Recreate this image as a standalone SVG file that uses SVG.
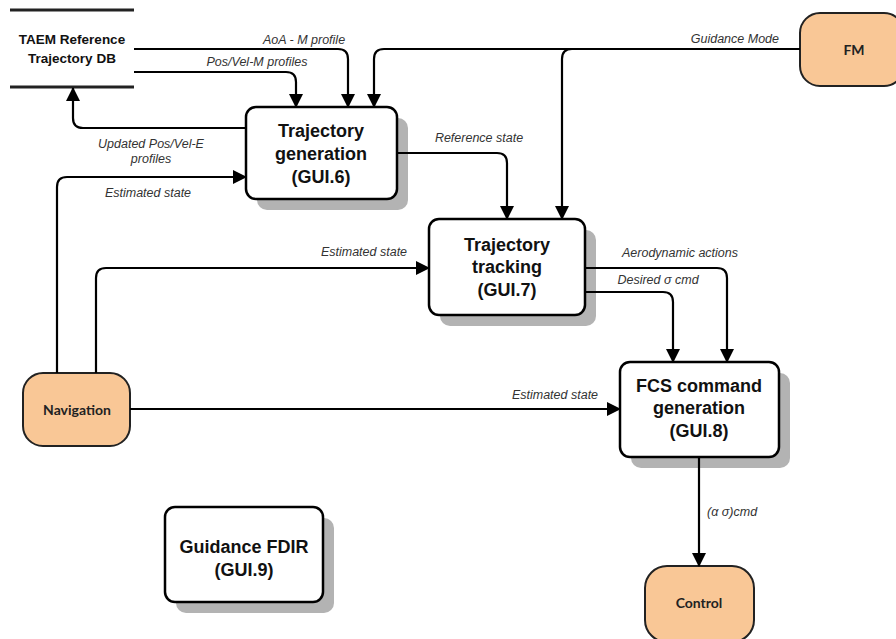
<svg xmlns="http://www.w3.org/2000/svg" width="896" height="639" viewBox="0 0 896 639">
<style>
.box{fill:#fff;stroke:#000;stroke-width:2.5}
.shadow{fill:#b3b3b3}
.term{fill:#f9c796;stroke:#222;stroke-width:2}
.btxt{font-family:"Liberation Sans",Arial,sans-serif;font-weight:bold;font-size:18px;fill:#111;text-anchor:middle}
.ttxt{font-family:Lato,"Liberation Sans",sans-serif;font-weight:bold;font-size:14px;fill:#222;text-anchor:middle}
.dbtxt{font-family:"Liberation Sans",Arial,sans-serif;font-weight:bold;font-size:13.5px;fill:#111;text-anchor:middle}
.lbl{font-family:"Liberation Sans",Arial,sans-serif;font-style:italic;font-size:12.5px;fill:#333}
.c{fill:none;stroke:#000;stroke-width:2.2}
.ca{fill:none;stroke:#000;stroke-width:2.2;marker-end:url(#arr)}
</style>
<defs>
<marker id="arr" markerUnits="userSpaceOnUse" markerWidth="14" markerHeight="14" refX="13" refY="7" orient="auto">
<path d="M0,0 L14,7 L0,14 z" fill="#000"/>
</marker>
</defs>
<rect width="896" height="639" fill="#fff"/>

<g id="db">
<line x1="10" y1="10" x2="134" y2="10" stroke="#222" stroke-width="3"/>
<line x1="10" y1="87" x2="134" y2="87" stroke="#222" stroke-width="3"/>
<text class="dbtxt" x="72" y="44">TAEM Reference</text>
<text class="dbtxt" x="72" y="63">Trajectory DB</text>
</g>

<g id="fm">
<rect class="term" x="800" y="13" width="104" height="73" rx="20"/>
<text class="ttxt" x="854" y="55">FM</text>
</g>

<g id="navigation">
<rect class="term" x="23" y="373" width="107" height="73" rx="20"/>
<text class="ttxt" x="77" y="415">Navigation</text>
</g>

<g id="control">
<rect class="term" x="645" y="566" width="109" height="76" rx="22"/>
<text class="ttxt" x="699" y="608">Control</text>
</g>

<g id="gui6">
<rect class="shadow" x="257" y="118" width="151" height="92" rx="10"/>
<rect class="box" x="246" y="107" width="151" height="92" rx="10"/>
<text class="btxt" x="321" y="137">Trajectory</text>
<text class="btxt" x="321" y="160">generation</text>
<text class="btxt" x="321" y="183">(GUI.6)</text>
</g>

<g id="gui7">
<rect class="shadow" x="440" y="230" width="156" height="96" rx="10"/>
<rect class="box" x="429" y="219" width="156" height="96" rx="10"/>
<text class="btxt" x="507" y="251">Trajectory</text>
<text class="btxt" x="507" y="273">tracking</text>
<text class="btxt" x="507" y="296">(GUI.7)</text>
</g>

<g id="gui8">
<rect class="shadow" x="631" y="373" width="159" height="95" rx="10"/>
<rect class="box" x="620" y="362" width="159" height="95" rx="10"/>
<text class="btxt" x="699" y="392">FCS command</text>
<text class="btxt" x="699" y="414">generation</text>
<text class="btxt" x="699" y="437">(GUI.8)</text>
</g>

<g id="gui9">
<rect class="shadow" x="176" y="518" width="158" height="95" rx="10"/>
<rect class="box" x="165" y="507" width="158" height="95" rx="10"/>
<text class="btxt" x="244" y="553">Guidance FDIR</text>
<text class="btxt" x="244" y="576">(GUI.9)</text>
</g>

<g id="connectors">
<path class="ca" d="M134,49 H338 Q348,49 348,59 V107"/>
<path class="ca" d="M134,72 H286 Q296,72 296,82 V107"/>
<path class="ca" d="M800,49 H384 Q374,49 374,59 V107"/>
<path class="ca" d="M572,49 Q562,49 562,59 V219"/>
<path class="ca" d="M246,128 H83 Q73,128 73,118 V88"/>
<path class="ca" d="M57,373 V187 Q57,177 67,177 H246"/>
<path class="ca" d="M397,153 H497 Q507,153 507,163 V219"/>
<path class="ca" d="M96,373 V278 Q96,268 106,268 H429"/>
<path class="ca" d="M130,409 H620"/>
<path class="ca" d="M585,268 H717 Q727,268 727,278 V362"/>
<path class="ca" d="M585,292 H663 Q673,292 673,302 V362"/>
<path class="ca" d="M699,457 V566"/>
<text class="lbl" x="304" y="44" text-anchor="middle">AoA - M profile</text>
<text class="lbl" x="257" y="66" text-anchor="middle">Pos/Vel-M profiles</text>
<text class="lbl" x="779" y="43" text-anchor="end">Guidance Mode</text>
<text class="lbl" x="151" y="148" text-anchor="middle">Updated Pos/Vel-E</text>
<text class="lbl" x="151" y="163" text-anchor="middle">profiles</text>
<text class="lbl" x="148" y="197" text-anchor="middle">Estimated state</text>
<text class="lbl" x="479" y="142" text-anchor="middle">Reference state</text>
<text class="lbl" x="364" y="256" text-anchor="middle">Estimated state</text>
<text class="lbl" x="680" y="257" text-anchor="middle">Aerodynamic actions</text>
<text class="lbl" x="658" y="284" text-anchor="middle">Desired σ  cmd</text>
<text class="lbl" x="555" y="399" text-anchor="middle">Estimated state</text>
<text class="lbl" x="707" y="516">(α  σ)cmd</text>
</g>
</svg>
